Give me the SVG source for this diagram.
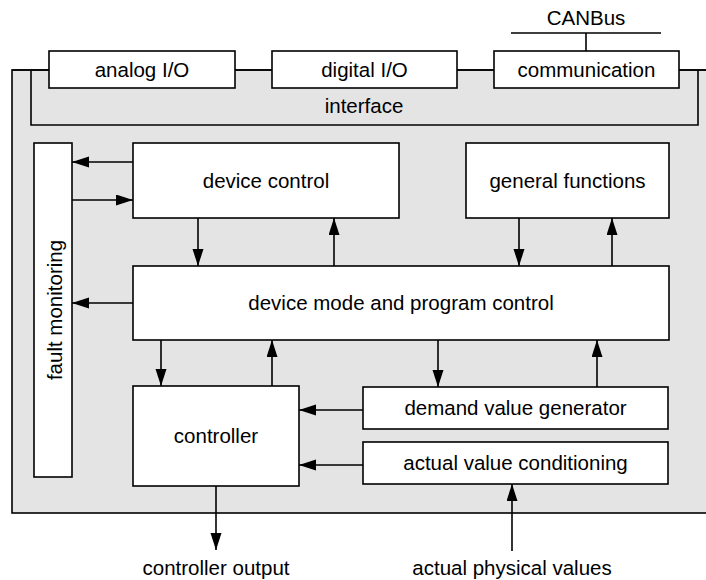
<svg xmlns="http://www.w3.org/2000/svg" width="706" height="580" viewBox="0 0 706 580">
<style>
.box{fill:#fff;stroke:#000;stroke-width:1.6}
.ln{fill:none;stroke:#000;stroke-width:1.6}
.ar{fill:none;stroke:#000;stroke-width:1.6;marker-end:url(#ah)}
text{font-family:"Liberation Sans",Arial,sans-serif;font-size:20.5px;fill:#000;text-anchor:middle}
</style>
<defs>
<marker id="ah" markerUnits="userSpaceOnUse" markerWidth="18" markerHeight="12" refX="17" refY="5.5" orient="auto">
<path d="M0,0 L17,5.5 L0,11 z" fill="#000"/>
</marker>
</defs>
<rect id="panel" x="12" y="70" width="710" height="443" fill="#e4e4e4" stroke="#000" stroke-width="1.6"/>
<g id="interface">
<path class="ln" d="M31,70 V125 H698 V70"/>
<text x="364" y="113">interface</text>
</g>
<g id="connectors">
<path class="ln" d="M12,70 H49 M235,70 H272 M457,70 H494 M679,70 H706"/>
<path class="ln" d="M511,33 H661 M586,33 V51"/>
<path class="ar" d="M133,162 H72"/>
<path class="ar" d="M72,200 H133"/>
<path class="ar" d="M198,218 V266"/>
<path class="ar" d="M334,266 V218"/>
<path class="ar" d="M519,218 V266"/>
<path class="ar" d="M612,266 V218"/>
<path class="ar" d="M133,303 H72"/>
<path class="ar" d="M161,340 V386"/>
<path class="ar" d="M272,386 V340"/>
<path class="ar" d="M438,340 V387"/>
<path class="ar" d="M597,387 V340"/>
<path class="ar" d="M363,410 H299"/>
<path class="ar" d="M363,465 H299"/>
<path class="ar" d="M216,486 V550"/>
<path class="ar" d="M512,551 V484"/>
</g>
<g id="canbus"><text x="586" y="25">CANBus</text></g>
<g id="analog"><rect class="box" x="49" y="51" width="186" height="37"/><text x="142" y="77">analog I/O</text></g>
<g id="digital"><rect class="box" x="272" y="51" width="185" height="37"/><text x="364.5" y="77">digital I/O</text></g>
<g id="communication"><rect class="box" x="494" y="51" width="185" height="37"/><text x="586.5" y="77">communication</text></g>
<g id="fault"><rect class="box" x="34" y="143" width="38" height="334"/><text transform="translate(62,310) rotate(-90)">fault monitoring</text></g>
<g id="devicecontrol"><rect class="box" x="133" y="143" width="266" height="75"/><text x="266" y="188">device control</text></g>
<g id="general"><rect class="box" x="466" y="143" width="203" height="75"/><text x="567.5" y="188">general functions</text></g>
<g id="mode"><rect class="box" x="133" y="266" width="536" height="74"/><text x="401" y="310">device mode and program control</text></g>
<g id="controller"><rect class="box" x="133" y="386" width="166" height="100"/><text x="216" y="443">controller</text></g>
<g id="demand"><rect class="box" x="363" y="387" width="305" height="42"/><text x="515.5" y="415">demand value generator</text></g>
<g id="actual"><rect class="box" x="363" y="442" width="305" height="42"/><text x="515.5" y="470">actual value conditioning</text></g>
<g id="output"><text x="216" y="575">controller output</text></g>
<g id="physical"><text x="512" y="575">actual physical values</text></g>
</svg>
